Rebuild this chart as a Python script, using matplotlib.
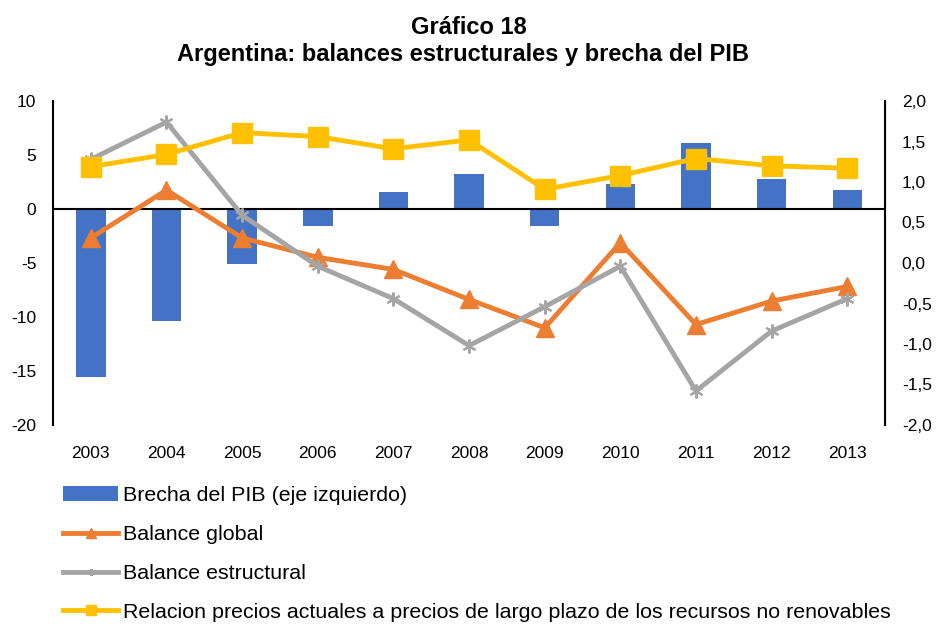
import matplotlib
matplotlib.use("Agg")
import matplotlib.pyplot as plt
from matplotlib.ticker import FuncFormatter

plt.rcParams['font.family'] = ['Liberation Sans', 'DejaVu Sans']
plt.rcParams['axes.unicode_minus'] = False

# datos
years = ['2003', '2004', '2005', '2006', '2007', '2008', '2009', '2010', '2011', '2012', '2013']
brecha_pib = [-15.6, -10.4, -5.1, -1.6, 1.6, 3.2, -1.6, 2.3, 6.1, 2.8, 1.8]
balance_global = [0.31, 0.90, 0.31, 0.07, -0.08, -0.45, -0.80, 0.25, -0.76, -0.47, -0.29]
balance_estructural = [1.28, 1.74, 0.59, -0.04, -0.44, -1.02, -0.54, -0.04, -1.58, -0.84, -0.44]
relacion_precios = [1.19, 1.34, 1.61, 1.56, 1.41, 1.52, 0.91, 1.08, 1.29, 1.20, 1.17]

x = list(range(len(years)))

fig = plt.figure(figsize=(9.37, 6.25), dpi=100)
ax = fig.add_axes([0.0566, 0.32, 0.888, 0.5184])
ax2 = ax.twinx()

bars = ax.bar(x, brecha_pib, width=0.39, color='#4472C4', zorder=2,
              label='Brecha del PIB (eje izquierdo)')
ax.axhline(0, color='black', linewidth=1.5, zorder=3)

l1, = ax2.plot(x, balance_global, color='#ED7D31', linewidth=3.5, marker='^',
               markersize=13, label='Balance global', zorder=3)
l2, = ax2.plot(x, balance_estructural, color='#A5A5A5', linewidth=3.5, marker=(6, 2, 0),
               markersize=10, markeredgewidth=1.5, label='Balance estructural', zorder=4)
l3, = ax2.plot(x, relacion_precios, color='#FFC000', linewidth=3.5, marker='s',
               markersize=15,
               label='Relacion precios actuales a precios de largo plazo de los recursos no renovables',
               zorder=5)

ax.set_xlim(-0.5, len(years) - 0.5)
ax.set_ylim(-20, 10)
ax.set_yticks([-20, -15, -10, -5, 0, 5, 10])
ax2.set_ylim(-2, 2)
ax2.set_yticks([-2, -1.5, -1, -0.5, 0, 0.5, 1, 1.5, 2])
ax2.yaxis.set_major_formatter(FuncFormatter(lambda v, p: f'{v:.1f}'.replace('.', ',')))

ax.set_xticks(x)
ax.set_xticklabels(years)

for a in (ax, ax2):
    a.spines['top'].set_visible(False)
    a.spines['bottom'].set_visible(False)
    a.tick_params(length=0, labelsize=12.5)
ax.spines['left'].set_linewidth(1.5)
ax2.spines['right'].set_linewidth(1.5)
ax2.spines['left'].set_visible(False)
ax.tick_params(axis='x', pad=15)
ax.tick_params(axis='y', pad=12)
ax2.tick_params(axis='y', pad=12)

fig.text(0.5, 0.956, 'Gráfico 18', ha='center', va='center', fontsize=17, fontweight='bold')
fig.text(0.494, 0.913, 'Argentina: balances estructurales y brecha del PIB', ha='center',
         va='center', fontsize=17, fontweight='bold')

fig.legend(handles=[bars, l1, l2, l3], loc='upper left', bbox_to_anchor=(0.067, 0.222),
           frameon=False, fontsize=15.4, handlelength=2.6, handletextpad=0.2,
           labelspacing=0.93, markerscale=0.5, borderaxespad=0, borderpad=0)

fig.savefig('out.png', dpi=100)
